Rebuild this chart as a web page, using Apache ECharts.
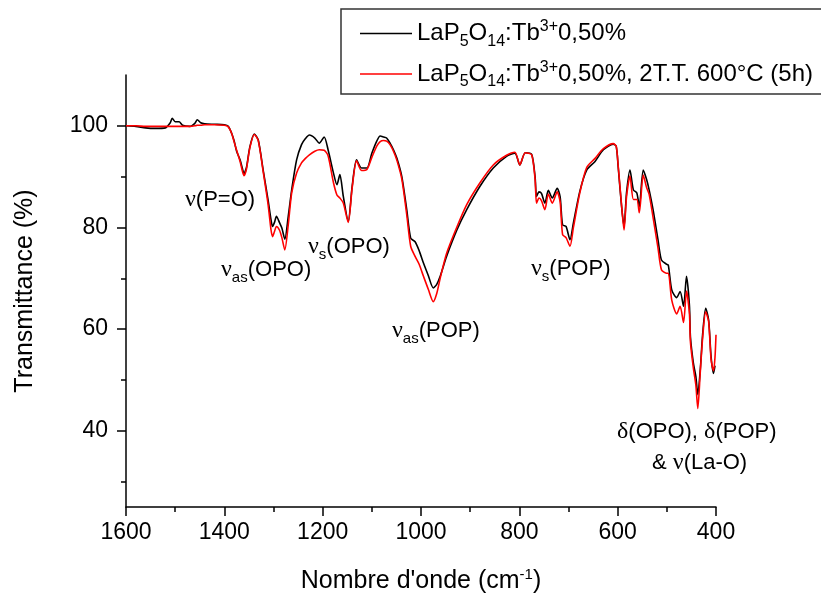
<!DOCTYPE html>
<html>
<head>
<meta charset="utf-8">
<script src="https://cdn.jsdelivr.net/npm/echarts@6/dist/echarts.min.js"></script>
<style>
  html, body { margin: 0; padding: 0; background: #fff; }
  #chart { width: 821px; height: 597px; }
</style>
</head>
<body>
<div id="chart"></div>
<script>
// FTIR spectra of LaP5O14:Tb3+ 0.50 %, before and after the second heat treatment
const wavenumbers = [
  1600, 1580, 1560, 1540, 1520, 1510, 1506, 1500, 1492, 1485, 1470, 1460, 1455, 1448, 1440,
  1420, 1400, 1392, 1385, 1380, 1375, 1368, 1363, 1360, 1355, 1348, 1339, 1331, 1321, 1311,
  1305, 1302, 1298, 1294, 1288, 1283, 1277, 1270, 1263, 1253, 1243, 1235, 1227, 1216, 1207,
  1197, 1189, 1178, 1171, 1165, 1158, 1148, 1140, 1131, 1121, 1110, 1100, 1090, 1083, 1076,
  1070, 1063, 1056, 1049, 1039, 1029, 1021, 1012, 1004, 995, 985, 975, 968, 961, 948,
  927, 907, 880, 853, 826, 809, 799, 788, 775, 768, 765, 760, 755, 748, 741,
  733, 723, 717, 712, 705, 697, 690, 677, 663, 646, 629, 609, 603, 599, 592,
  587, 582, 575, 568, 561, 556, 548, 541, 536, 528, 518, 511, 501, 497, 490,
  480, 473, 466, 460, 454, 452, 446, 441, 437, 432, 427, 421, 415, 410, 405,
  402, 400
];

const transAsPrepared = [
  100, 99.9, 99.6, 99.5, 99.6, 100.6, 101.5, 100.8, 100.8, 100.1, 99.9, 100.5, 101.2, 100.6, 100.4,
  100.3, 100.2, 99.9, 98.5, 97.0, 95.0, 93.3, 91.5, 90.6, 91.8, 95.9, 98.4, 97.2, 91.3, 85.4,
  81.5, 80.2, 81.0, 82.2, 81.0, 79.9, 77.7, 82.2, 87.4, 93.3, 96.3, 97.5, 98.2, 97.6, 96.6,
  97.8, 95.3, 90.7, 88.4, 90.4, 86.1, 81.2, 88.1, 93.3, 91.7, 91.7, 94.6, 97.0, 98.0, 97.8,
  97.6, 96.6, 95.3, 93.6, 90.0, 83.5, 77.9, 77.2, 75.5, 73.0, 70.5, 68.1, 68.8, 70.4, 74.3,
  79.5, 83.5, 88.1, 91.7, 94.0, 94.6, 92.3, 94.7, 94.4, 90.0, 86.1, 87.0, 86.7, 84.8, 87.3,
  85.8, 87.7, 86.0, 80.5, 80.2, 77.6, 80.9, 87.1, 91.3, 93.0, 95.3, 96.4, 96.0, 92.0, 84.1,
  80.2, 86.8, 91.3, 87.4, 86.8, 84.1, 91.3, 89.4, 87.4, 83.5, 77.6, 73.6, 72.8, 72.6, 67.7,
  66.2, 67.4, 64.5, 70.4, 64.6, 58.5, 53.3, 50.7, 47.1, 52.0, 59.2, 64.1, 61.8, 54.6, 51.3,
  52.8, null
];

const transAnnealed = [
  100, 100, 99.9, 99.9, 99.9, 99.9, 99.9, 99.9, 99.9, 99.9, 99.9, 100, 100.1, 100.1, 100.2,
  100.2, 100.1, 99.8, 98.5, 96.8, 95.2, 93.0, 91.0, 90.2, 91.5, 95.7, 98.3, 97.1, 91.0, 84.5,
  79.5, 78.2, 79.2, 80.2, 79.5, 78.0, 75.6, 80.5, 86.8, 90.7, 92.7, 93.6, 94.3, 95.0, 95.3,
  95.2, 94.1, 88.8, 86.4, 85.8, 84.8, 81.0, 87.8, 93.1, 91.2, 91.4, 93.8, 96.0, 96.9, 97.1,
  97.0, 96.3, 95.0, 93.2, 89.5, 82.5, 76.3, 74.3, 72.8, 70.4, 67.8, 65.4, 67.0, 70.0, 74.9,
  80.1, 84.5, 88.8, 92.3, 94.2, 94.8, 92.3, 94.7, 94.3, 89.5, 84.8, 85.8, 85.3, 83.5, 86.6,
  84.8, 87.0, 85.0, 78.6, 78.0, 76.3, 80.0, 86.8, 91.8, 93.6, 95.5, 96.5, 96.0, 92.2, 84.3,
  79.5, 86.0, 90.1, 85.5, 85.5, 82.9, 90.3, 87.8, 86.5, 82.0, 76.0, 71.7, 71.0, 71.0, 65.7,
  63.0, 64.5, 61.3, 67.5, 63.0, 57.5, 52.3, 49.0, 44.4, 51.5, 58.5, 63.4, 61.5, 54.0, 51.8,
  54.5, 58.9
];

const xTicks = [1600, 1400, 1200, 1000, 800, 600, 400];
const yTicks = [40, 60, 80, 100];
const yMinorTicks = [30, 50, 70, 90];

const seriesNames = ['LaP5O14:Tb3+0,50%', 'LaP5O14:Tb3+0,50%, 2T.T. 600°C (5h)'];
const legendRich = {
  [seriesNames[0]]: 'LaP{sub|5}O{sub|14}:Tb{sup|3+}0,50%',
  [seriesNames[1]]: 'LaP{sub|5}O{sub|14}:Tb{sup|3+}0,50%, 2T.T. 600°C (5h)'
};

const SANS = 'Liberation Sans, Arial, sans-serif';
const SERIF = 'Liberation Serif, Times New Roman, serif';

const pairs = (vals) => wavenumbers.map((w, i) => [w, vals[i]]);

function annotation(x, y, text) {
  return {
    type: 'text',
    x: x,
    y: y,
    z: 100,
    style: {
      text: text,
      fill: '#000',
      fontSize: 22,
      fontFamily: SANS,
      textVerticalAlign: 'middle',
      rich: {
        g: { fontSize: 24, fontFamily: SERIF, color: '#000' },
        sub: { fontSize: 15, fontFamily: SANS, color: '#000', padding: [16, 0, 0, 0] }
      }
    }
  };
}

const chart = echarts.init(document.getElementById('chart'), null, { renderer: 'canvas' });

chart.setOption({
  backgroundColor: '#fff',
  animation: false,
  grid: { left: 126, right: 105, top: 75, bottom: 90, containLabel: false, outerBoundsMode: 'none' },
  legend: {
    orient: 'vertical',
    left: 355,
    top: 14,
    icon: 'rect',
    itemWidth: 52,
    itemHeight: 1.6,
    itemGap: 10,
    data: seriesNames,
    formatter: (name) => legendRich[name],
    textStyle: {
      fontSize: 24,
      fontFamily: SANS,
      color: '#000',
      rich: {
        sub: { fontSize: 16, fontFamily: SANS, color: '#000', padding: [16, 0, 0, 0] },
        sup: { fontSize: 16, fontFamily: SANS, color: '#000', padding: [0, 0, 13, 0] }
      }
    }
  },
  xAxis: {
    type: 'value',
    min: 400,
    max: 1600,
    interval: 200,
    inverse: true,
    name: "Nombre d'onde (cm{sup|-1})",
    nameLocation: 'middle',
    nameGap: 60,
    nameTextStyle: {
      fontSize: 25,
      fontFamily: SANS,
      color: '#000',
      rich: { sup: { fontSize: 15, fontFamily: SANS, color: '#000', padding: [0, 0, 13, 0] } }
    },
    axisLine: { show: true, onZero: false, lineStyle: { color: '#000', width: 1.5 } },
    axisTick: { show: true, length: 9, lineStyle: { color: '#000', width: 1.5 } },
    minorTick: { show: true, splitNumber: 2, length: 5, lineStyle: { color: '#000', width: 1.5 } },
    axisLabel: {
      margin: 14,
      fontSize: 23,
      fontFamily: SANS,
      color: '#000',
      formatter: (v) => (xTicks.includes(v) ? String(v) : '')
    },
    splitLine: { show: false },
    minorSplitLine: { show: false }
  },
  yAxis: [
    {
      type: 'value',
      min: 25,
      max: 110,
      position: 'left',
      name: 'Transmittance (%)',
      nameLocation: 'middle',
      nameGap: 88,
      nameTextStyle: { fontSize: 25, fontFamily: SANS, color: '#000' },
      axisLine: { show: true, onZero: false, lineStyle: { color: '#000', width: 1.5 } },
      axisTick: { show: true, length: 9, customValues: yTicks, lineStyle: { color: '#000', width: 1.5 } },
      axisLabel: {
        margin: 18,
        fontSize: 23,
        fontFamily: SANS,
        color: '#000',
        customValues: yTicks
      },
      splitLine: { show: false }
    },
    {
      type: 'value',
      min: 25,
      max: 110,
      position: 'left',
      axisLine: { show: false },
      axisTick: { show: true, length: 5, customValues: yMinorTicks, lineStyle: { color: '#000', width: 1.5 } },
      axisLabel: { show: false },
      splitLine: { show: false }
    }
  ],
  series: [
    {
      name: seriesNames[0],
      type: 'line',
      data: pairs(transAsPrepared),
      symbol: 'none',
      smooth: 0.25,
      connectNulls: false,
      z: 3,
      lineStyle: { color: '#000', width: 1.6 },
      itemStyle: { color: '#000' }
    },
    {
      name: seriesNames[1],
      type: 'line',
      data: pairs(transAnnealed),
      symbol: 'none',
      smooth: 0.25,
      z: 4,
      lineStyle: { color: '#ff0000', width: 1.6 },
      itemStyle: { color: '#ff0000' }
    }
  ],
  graphic: [
    {
      type: 'rect',
      z: 0,
      shape: { x: 341, y: 9, width: 500, height: 85 },
      style: { fill: 'none', stroke: '#333', lineWidth: 1.5 }
    },
    annotation(185, 200, '{g|ν}(P=O)'),
    annotation(221, 270, '{g|ν}{sub|as}(OPO)'),
    annotation(308, 247, '{g|ν}{sub|s}(OPO)'),
    annotation(392, 331, '{g|ν}{sub|as}(POP)'),
    annotation(531, 269, '{g|ν}{sub|s}(POP)'),
    annotation(617, 432, '{g|δ}(OPO), {g|δ}(POP)'),
    annotation(652, 463, '& {g|ν}(La-O)')
  ]
});
</script>
</body>
</html>
